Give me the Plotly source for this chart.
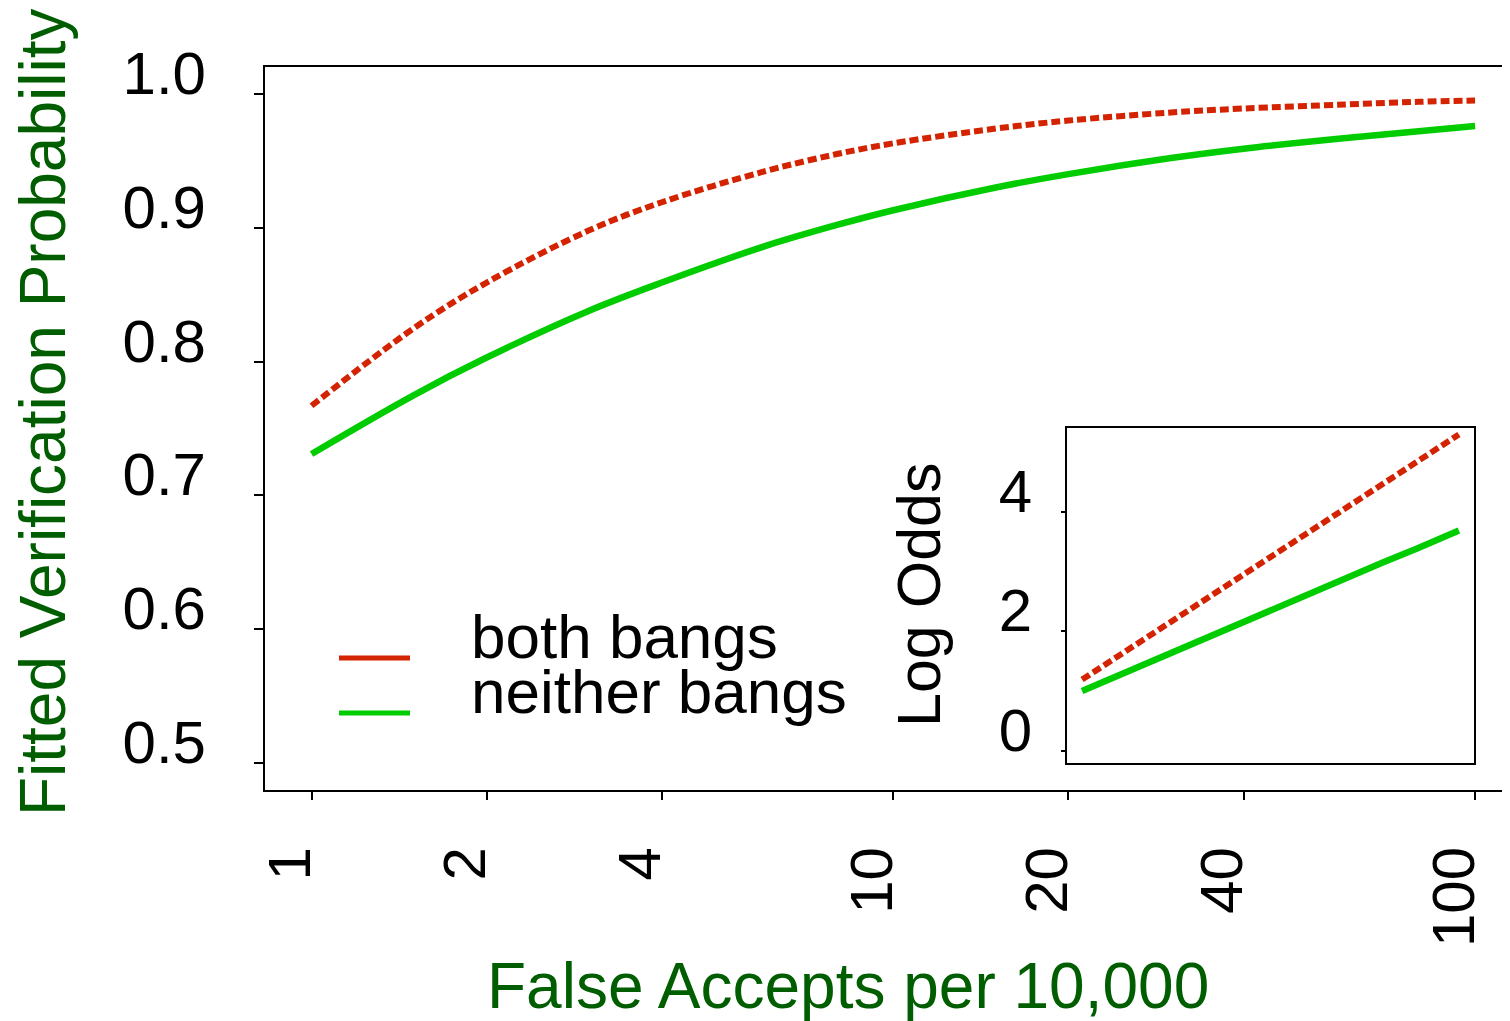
import plotly.graph_objects as go

# ---- data ----
x_fa = [1, 1.5, 2, 3, 4, 6, 8, 10, 15, 20, 30, 40, 60, 80, 100]
p_both = [0.767, 0.825, 0.859, 0.898, 0.919, 0.942, 0.955, 0.963, 0.974, 0.980, 0.986, 0.989, 0.992, 0.994, 0.995]
p_neither = [0.731, 0.775, 0.803, 0.838, 0.859, 0.886, 0.902, 0.913, 0.930, 0.940, 0.952, 0.959, 0.967, 0.972, 0.976]
lo_both = [1.19, 1.55, 1.81, 2.17, 2.43, 2.79, 3.05, 3.25, 3.61, 3.87, 4.23, 4.49, 4.85, 5.11, 5.30]
lo_neither = [1.00, 1.24, 1.41, 1.64, 1.81, 2.05, 2.22, 2.35, 2.58, 2.75, 2.99, 3.16, 3.39, 3.56, 3.69]

x_ticks = [1, 2, 4, 10, 20, 40, 100]
x_ticktext = ["1", "2", "4", "10", "20", "40", "100"]
y_ticks = [0.5, 0.6, 0.7, 0.8, 0.9, 1.0]
y_ticktext = ["0.5", "0.6", "0.7", "0.8", "0.9", "1.0"]
y2_ticks = [0, 2, 4]
y2_ticktext = ["0", "2", "4"]

series_names = ["both bangs", "neither bangs"]

RED = "#D42300"
GREEN = "#00CC00"
DKGREEN = "#005E00"
FONT = "Liberation Sans, Arial, Helvetica, sans-serif"

# page has an 8px body margin: figure is shifted by (8, 8) on the page
OFF = 8
W, H = 1510 - OFF, 1021 - OFF
PL, PT, PB = 265, 67, 790          # plot area on the page
L, T = PL - OFF, PT - OFF
B = H - (PB - OFF)
R = 0
PW, PH = 1510 - PL, PB - PT


def px(x):
    return (x - PL) / PW


def py(y):
    return (PB - y) / PH


fig = go.Figure()
fig.add_trace(go.Scatter(x=x_fa, y=p_both, mode="lines", name=series_names[0],
                         line=dict(color=RED, width=6, dash="9px,4px", shape="spline"),
                         showlegend=False, xaxis="x", yaxis="y"))
fig.add_trace(go.Scatter(x=x_fa, y=p_neither, mode="lines", name=series_names[1],
                         line=dict(color=GREEN, width=6.5, shape="spline"),
                         showlegend=False, xaxis="x", yaxis="y"))
fig.add_trace(go.Scatter(x=x_fa, y=lo_both, mode="lines", name=series_names[0],
                         line=dict(color=RED, width=6, dash="9px,4px"),
                         showlegend=False, xaxis="x2", yaxis="y2"))
fig.add_trace(go.Scatter(x=x_fa, y=lo_neither, mode="lines", name=series_names[1],
                         line=dict(color=GREEN, width=6.5),
                         showlegend=False, xaxis="x2", yaxis="y2"))

axis_common = dict(showgrid=False, zeroline=False, linecolor="black", linewidth=2,
                   tickcolor="black", tickwidth=2, showline=True)

fig.update_layout(
    width=W, height=H, autosize=False,
    margin=dict(l=L, r=R, t=T, b=B, pad=0),
    paper_bgcolor="white", plot_bgcolor="white",
    font=dict(family=FONT, color="black"),
    xaxis=dict(axis_common, domain=[0, 1], type="log", range=[-0.08, 2.06],
               tickmode="array", tickvals=x_ticks, ticktext=x_ticktext,
               tickangle=-90, ticks="outside", ticklen=8, mirror=True,
               tickfont=dict(size=60, family=FONT), ticklabelshift=-21,
               ticklabelstandoff=23, anchor="y"),
    yaxis=dict(axis_common, domain=[0, 1], range=[0.48, 1.02],
               tickmode="array", tickvals=y_ticks, ticktext=y_ticktext,
               ticks="outside", ticklen=9, mirror=False,
               tickfont=dict(size=60, family=FONT), ticklabelshift=-21,
               ticklabelstandoff=36, anchor="x"),
    xaxis2=dict(axis_common, domain=[px(1067), px(1474)], type="log", range=[-0.08, 2.08],
                showticklabels=False, ticks="", mirror=True, anchor="y2"),
    yaxis2=dict(axis_common, domain=[py(763), py(428)], range=[-0.208, 5.408],
                tickmode="array", tickvals=y2_ticks, ticktext=y2_ticktext,
                ticks="outside", ticklen=4, mirror=True,
                tickfont=dict(size=60, family=FONT), ticklabelshift=-21,
                ticklabelstandoff=17, anchor="x2"),
)

# legend (drawn manually like the original base-graphics legend)
fig.add_shape(type="line", xref="paper", yref="paper", x0=px(339), x1=px(410),
              y0=py(658), y1=py(658), line=dict(color=RED, width=5))
fig.add_shape(type="line", xref="paper", yref="paper", x0=px(339), x1=px(410),
              y0=py(713), y1=py(713), line=dict(color=GREEN, width=5))
fig.add_annotation(text=series_names[0], xref="paper", yref="paper", x=px(469), y=py(636),
                   xanchor="left", yanchor="middle", showarrow=False,
                   font=dict(size=62, family=FONT, color="black"))
fig.add_annotation(text=series_names[1], xref="paper", yref="paper", x=px(469), y=py(691),
                   xanchor="left", yanchor="middle", showarrow=False,
                   font=dict(size=62, family=FONT, color="black"))

# axis titles
fig.add_annotation(text="False Accepts per 10,000", xref="paper", yref="paper",
                   x=px(848), y=py(986), xanchor="center", yanchor="middle", showarrow=False,
                   font=dict(size=64, family=FONT, color=DKGREEN))
fig.add_annotation(text="Fitted Verification Probability", xref="paper", yref="paper",
                   x=px(43), y=py(412), xanchor="center", yanchor="middle", showarrow=False,
                   textangle=-90, font=dict(size=64, family=FONT, color=DKGREEN))
fig.add_annotation(text="Log Odds", xref="paper", yref="paper",
                   x=px(919), y=py(595), xanchor="center", yanchor="middle", showarrow=False,
                   textangle=-90, font=dict(size=61, family=FONT, color="black"))

fig.write_html("out.html")
